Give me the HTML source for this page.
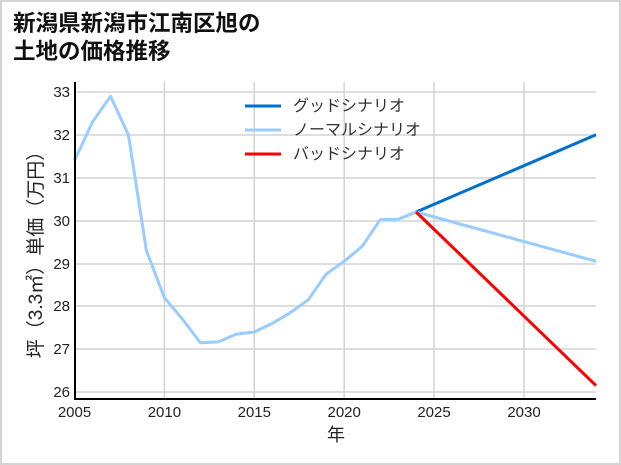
<!DOCTYPE html>
<html><head><meta charset="utf-8"><style>
html,body{margin:0;padding:0;background:#fff}
svg{display:block}
text{font-family:"Liberation Sans","Noto Sans CJK JP",sans-serif}
</style></head><body>
<svg width="621" height="465" xmlns="http://www.w3.org/2000/svg">
<rect x="1" y="1" width="619" height="463" fill="#fff" stroke="#d4d4d4" stroke-width="2"/>
<text x="13" y="31" font-size="22.5" font-weight="bold" fill="#111">新潟県新潟市江南区旭の</text>
<text x="13" y="59" font-size="22.5" font-weight="bold" fill="#111">土地の価格推移</text>
<g stroke="#d3d3d3" stroke-width="1.5">
<line x1="75" y1="92" x2="596" y2="92"/><line x1="75" y1="135" x2="596" y2="135"/>
<line x1="75" y1="178" x2="596" y2="178"/><line x1="75" y1="221" x2="596" y2="221"/>
<line x1="75" y1="264" x2="596" y2="264"/><line x1="75" y1="306" x2="596" y2="306"/>
<line x1="75" y1="349" x2="596" y2="349"/><line x1="75" y1="392" x2="596" y2="392"/>
<line x1="164.4" y1="82" x2="164.4" y2="399"/><line x1="254.3" y1="82" x2="254.3" y2="399"/>
<line x1="344.2" y1="82" x2="344.2" y2="399"/><line x1="434" y1="82" x2="434" y2="399"/>
<line x1="524" y1="82" x2="524" y2="399"/>
</g>
<g font-size="15" fill="#222" text-anchor="end">
<text x="70" y="97">33</text><text x="70" y="140">32</text><text x="70" y="183">31</text>
<text x="70" y="226">30</text><text x="70" y="269">29</text><text x="70" y="311">28</text>
<text x="70" y="354">27</text><text x="70" y="397">26</text>
</g>
<g font-size="15" fill="#222" text-anchor="middle">
<text x="74.5" y="417">2005</text><text x="164.4" y="417">2010</text><text x="254.3" y="417">2015</text>
<text x="344.2" y="417">2020</text><text x="434" y="417">2025</text><text x="524" y="417">2030</text>
<text x="336" y="441" font-size="18">年</text>
</g>
<text transform="translate(42,250) rotate(-90)" font-size="19" fill="#222" text-anchor="middle">坪（3.3㎡）単価（万円）</text>
<polyline fill="none" stroke="#99ccff" stroke-width="3" stroke-linejoin="round" points="74.5,160.6 92.5,122 110.5,96.3 128.4,134.8 146.4,250.6 164.4,297.7 182.4,319.1 200.4,342.7 218.3,341.9 236.3,334.1 254.3,332 272.3,323.4 290.3,312.7 308.2,299.9 326.2,274.1 344.2,261.3 362.2,246.3 380.2,219.7 398.1,219.3 416.1,212"/>
<line x1="416.1" y1="212" x2="596" y2="134.8" stroke="#0070cc" stroke-width="3"/>
<line x1="416.1" y1="212" x2="596" y2="261.3" stroke="#99ccff" stroke-width="3"/>
<line x1="416.1" y1="212" x2="596" y2="385.6" stroke="#ff0000" stroke-width="3"/>
<line x1="75" y1="82" x2="75" y2="400" stroke="#000" stroke-width="2"/>
<line x1="74" y1="399" x2="596" y2="399" stroke="#000" stroke-width="2"/>
<line x1="245" y1="106" x2="281" y2="106" stroke="#0070cc" stroke-width="3"/>
<line x1="245" y1="130" x2="281" y2="130" stroke="#99ccff" stroke-width="3"/>
<line x1="245" y1="154" x2="281" y2="154" stroke="#ff0000" stroke-width="3"/>
<g font-size="16" fill="#333">
<text x="293" y="111">グッドシナリオ</text>
<text x="293" y="135">ノーマルシナリオ</text>
<text x="293" y="159">バッドシナリオ</text>
</g>
</svg>
</body></html>
